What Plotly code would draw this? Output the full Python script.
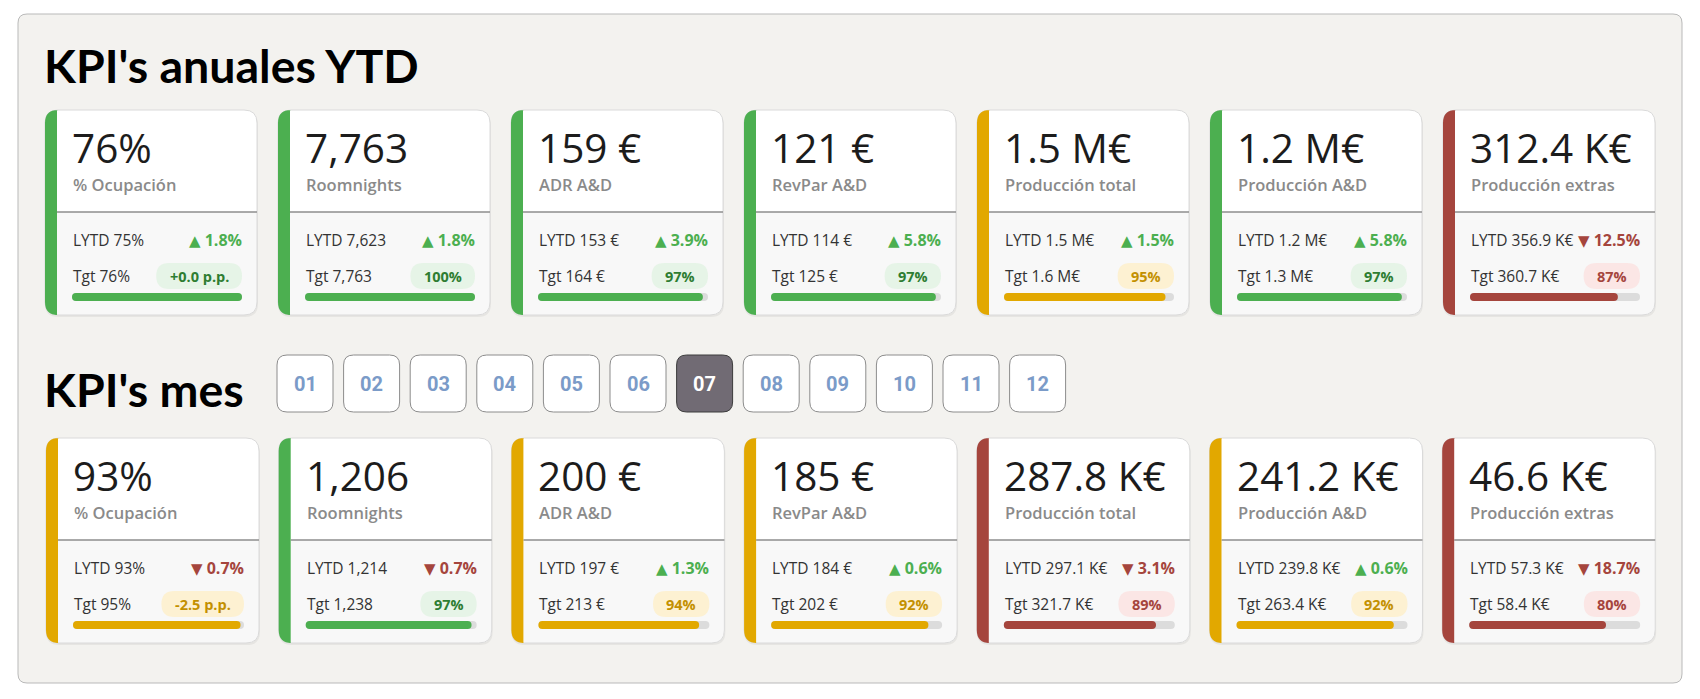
import plotly.graph_objects as go

# ---------------- data ----------------
kpi_labels = ["% Ocupación", "Roomnights", "ADR A&D", "RevPar A&D",
              "Producción total", "Producción A&D", "Producción extras"]

ytd_values = ["76%", "7,763", "159 €", "121 €", "1.5 M€", "1.2 M€", "312.4 K€"]
ytd_lytd = ["75%", "7,623", "153 €", "114 €", "1.5 M€", "1.2 M€", "356.9 K€"]
ytd_delta = [1.8, 1.8, 3.9, 5.8, 1.5, 5.8, -12.5]
ytd_target = ["76%", "7,763", "164 €", "125 €", "1.6 M€", "1.3 M€", "360.7 K€"]
ytd_attain = [1.00, 1.00, 0.97, 0.97, 0.95, 0.97, 0.87]
ytd_badge = ["+0.0 p.p.", "100%", "97%", "97%", "95%", "97%", "87%"]
ytd_status = ["good", "good", "good", "good", "warn", "good", "bad"]

month_values = ["93%", "1,206", "200 €", "185 €", "287.8 K€", "241.2 K€", "46.6 K€"]
month_lytd = ["93%", "1,214", "197 €", "184 €", "297.1 K€", "239.8 K€", "57.3 K€"]
month_delta = [-0.7, -0.7, 1.3, 0.6, -3.1, 0.6, -18.7]
month_target = ["95%", "1,238", "213 €", "202 €", "321.7 K€", "263.4 K€", "58.4 K€"]
month_attain = [0.98, 0.97, 0.94, 0.92, 0.89, 0.92, 0.80]
month_badge = ["-2.5 p.p.", "97%", "94%", "92%", "89%", "92%", "80%"]
month_status = ["warn", "good", "warn", "warn", "bad", "warn", "bad"]

months = ["01", "02", "03", "04", "05", "06", "07", "08", "09", "10", "11", "12"]
selected_month = "07"

titles = ["KPI's anuales YTD", "KPI's mes"]

# ---------------- style ----------------
W, H = 1700, 699
FONT = "Open Sans"
TITLE_FONT = "Lato"
BTN_FONT = "Roboto"
STATUS = {
    "good": dict(main="#4caf50", pill_bg="#e6f4e7", pill_fg="#2e7d32"),
    "warn": dict(main="#e2a800", pill_bg="#fdf1d2", pill_fg="#c39000"),
    "bad": dict(main="#a5453d", pill_bg="#fbe6e5", pill_fg="#a5453d"),
}
UP_COLOR = "#4caf50"
DOWN_COLOR = "#a5453d"

shapes = []
annotations = []


def rrect(x0, y0, x1, y1, r):
    return (f"M{x0+r},{y0} L{x1-r},{y0} Q{x1},{y0} {x1},{y0+r} "
            f"L{x1},{y1-r} Q{x1},{y1} {x1-r},{y1} L{x0+r},{y1} "
            f"Q{x0},{y1} {x0},{y1-r} L{x0},{y0+r} Q{x0},{y0} {x0+r},{y0} Z")


def add_path(path, fill=None, line=None, lw=0):
    shapes.append(dict(type="path", path=path, xref="x", yref="y",
                       fillcolor=fill if fill else "rgba(0,0,0,0)",
                       line=dict(color=line if line else "rgba(0,0,0,0)", width=lw),
                       layer="above"))


def add_text(x, y, text, size, color, family=FONT, xanchor="left", weight=None):
    f = dict(family=family, size=size, color=color)
    if weight:
        f["weight"] = weight
    annotations.append(dict(x=x, y=y, xref="x", yref="y", text=text, showarrow=False,
                            xanchor=xanchor, yanchor="middle", font=f, borderpad=0))


CW = {"%": 12.0, ".": 4.0, "p": 8.6, "+": 8.4, " ": 3.8, "-": 5.2}


def text_w(s):
    return sum(CW.get(c, 8.2) for c in s)


# outer panel
add_path(rrect(18, 14, 1682, 683, 9), fill="#f3f2ef", line="#b9b9b9", lw=1)


def card(x0, y0, w, h, value, label, lytd, delta, target, attain, badge, status):
    x1, y1 = x0 + w, y0 + h
    st = STATUS[status]
    sw = 12
    r = 13
    div_y = y0 + 102
    # shadow
    add_path(rrect(x0, y0 + 2, x1 + 1, y1 + 2, r), fill="rgba(0,0,0,0.05)")
    # card body
    add_path(rrect(x0, y0, x1, y1, r), fill="#ffffff")
    # lower area
    add_path(f"M{x0+sw},{div_y} L{x1},{div_y} L{x1},{y1-r} Q{x1},{y1} {x1-r},{y1} "
             f"L{x0+sw},{y1} Z", fill="#f8f8f8")
    # outline
    add_path(rrect(x0, y0, x1, y1, r), line="#dadada", lw=1)
    # divider
    shapes.append(dict(type="line", x0=x0 + sw, x1=x1, y0=div_y, y1=div_y, xref="x", yref="y",
                       line=dict(color="#8e8e8e", width=1.3), layer="above"))
    # stripe
    add_path(f"M{x0+sw},{y0} L{x0+sw},{y1} L{x0+r},{y1} Q{x0},{y1} {x0},{y1-r} "
             f"L{x0},{y0+r} Q{x0},{y0} {x0+r},{y0} Z", fill=st["main"])
    tx = x0 + 27
    rx = x1 - 15
    add_text(tx - 1, y0 + 37, value, 40.5, "#1c1c1c")
    add_text(tx, y0 + 74, label, 16.5, "#8a8a8a", weight=600)
    add_text(tx, y0 + 130, "LYTD " + lytd, 15.5, "#333333")
    arrow = "▲" if delta >= 0 else "▼"
    dcol = UP_COLOR if delta >= 0 else DOWN_COLOR
    add_text(rx + 1, y0 + 130,
             f"<span style='font-family:DejaVu Sans;font-size:15px'>{arrow}</span> {abs(delta):.1f}%",
             16, dcol, xanchor="right", weight=700)
    add_text(tx, y0 + 166, "Tgt " + target, 15.5, "#333333")
    # pill
    pw = text_w(badge) + 28
    py0, py1 = y0 + 153, y0 + 179
    add_path(rrect(rx - pw, py0, rx, py1, 13), fill=st["pill_bg"])
    add_text(rx - pw / 2, y0 + 166, badge, 14.5, st["pill_fg"], xanchor="center", weight=700)
    # progress bar
    bx0, bx1 = tx, rx
    by0, by1 = y0 + 183, y0 + 191
    add_path(rrect(bx0, by0, bx1, by1, 4), fill="#dcdcdc")
    fx1 = bx0 + (bx1 - bx0) * min(attain, 1.0)
    add_path(rrect(bx0, by0, fx1, by1, 4), fill=st["main"])


rows = [
    (45, 110, 212, 233, ytd_values, ytd_lytd, ytd_delta, ytd_target, ytd_attain, ytd_badge, ytd_status),
    (46, 438, 213, 232.7, month_values, month_lytd, month_delta, month_target, month_attain, month_badge, month_status),
]
for (x0, y0, w, pitch, vals, lytd, dlt, tgt, att, bdg, sts) in rows:
    for i in range(len(kpi_labels)):
        card(x0 + i * pitch, y0, w, 205, vals[i], kpi_labels[i], lytd[i], dlt[i],
             tgt[i], att[i], bdg[i], sts[i])

# titles
add_text(43, 65, titles[0], 46.5, "#000000", family=TITLE_FONT, weight=700)
add_text(43, 389, titles[1], 46.5, "#000000", family=TITLE_FONT, weight=700)

# month buttons
for i, m in enumerate(months):
    bx0 = 277 + i * 66.6
    sel = (m == selected_month)
    add_path(rrect(bx0, 355, bx0 + 56, 412, 10),
             fill="#716b74" if sel else "#ffffff",
             line="#3c3c3c" if sel else "#8c8c8c", lw=1)
    add_text(bx0 + 28, 384, m, 20, "#ffffff" if sel else "#7b9bc8",
             family=BTN_FONT, xanchor="center", weight=700)

fig = go.Figure()
fig.add_trace(go.Scatter(x=[0, W], y=[0, H], mode="markers", marker=dict(opacity=0),
                         hoverinfo="skip", showlegend=False))
fig.update_layout(
    width=W, height=H, margin=dict(l=0, r=0, t=0, b=0),
    paper_bgcolor="#ffffff", plot_bgcolor="#ffffff",
    xaxis=dict(range=[0, W], visible=False, fixedrange=True),
    yaxis=dict(range=[H, 0], visible=False, fixedrange=True),
    shapes=shapes, annotations=annotations, showlegend=False,
)
fig.write_html("out.html", config=dict(displayModeBar=False, staticPlot=True),
               post_script="document.body.style.margin='0';document.body.style.overflow='hidden';")
